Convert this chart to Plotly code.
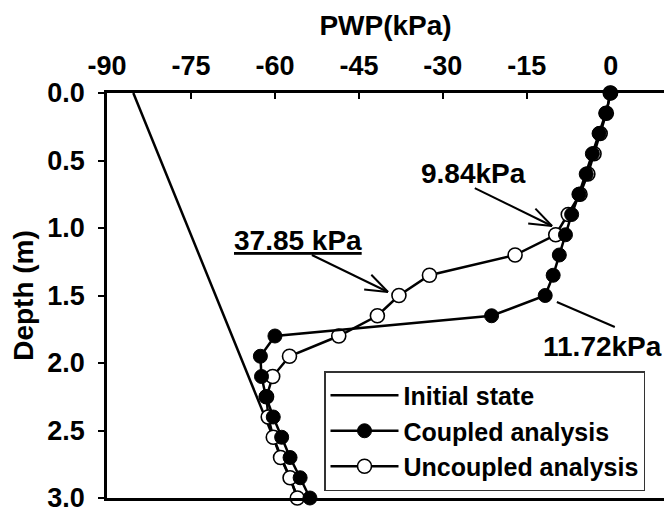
import math
import plotly.graph_objects as go

# ---- data ----
depth = [0.0, 0.15, 0.30, 0.45, 0.60, 0.75, 0.90, 1.05, 1.20, 1.35, 1.50,
         1.65, 1.80, 1.95, 2.10, 2.25, 2.40, 2.55, 2.70, 2.85, 3.0]
coupled = [0.0, -0.9, -2.1, -3.3, -4.4, -5.7, -7.0, -8.1, -9.2, -10.3, -11.72,
           -21.3, -60.0, -62.6, -62.4, -61.6, -60.3, -58.8, -57.3, -55.5, -53.75]
uncoupled = [-0.1, -0.8, -1.9, -3.0, -4.1, -5.5, -7.6, -9.84, -17.1, -32.4, -37.85,
             -41.7, -48.6, -57.4, -60.4, -61.5, -61.2, -60.3, -59.0, -57.3, -56.0]
initial_depth = [0.0, 3.0]
initial_pwp = [-85.3, -55.9]

x_ticks = [-90, -75, -60, -45, -30, -15, 0]
x_ticktext = ["-90", "-75", "-60", "-45", "-30", "-15", "0"]
y_ticks = [0.0, 0.5, 1.0, 1.5, 2.0, 2.5, 3.0]
y_ticktext = ["0.0", "0.5", "1.0", "1.5", "2.0", "2.5", "3.0"]

FONT = "Liberation Sans, Arial, sans-serif"
W, H = 664, 507
ML, MR, MT, MB = 107, 0, 93, 9
XR = [-90, 9.5]
YR = [3, 0]

fig = go.Figure()
fig.add_trace(go.Scatter(x=initial_pwp, y=initial_depth, mode="lines",
                         name="Initial state", legendrank=1,
                         line=dict(color="black", width=2.5)))
fig.add_trace(go.Scatter(x=uncoupled, y=depth, mode="lines+markers",
                         name="Uncoupled analysis", legendrank=3, cliponaxis=False,
                         line=dict(color="black", width=2.5),
                         marker=dict(symbol="circle", size=14, color="white",
                                     line=dict(color="black", width=1.6))))
fig.add_trace(go.Scatter(x=coupled, y=depth, mode="lines+markers",
                         name="Coupled analysis", legendrank=2, cliponaxis=False,
                         line=dict(color="black", width=2.5),
                         marker=dict(symbol="circle", size=14, color="black",
                                     line=dict(color="black", width=1))))

ann_font = dict(family=FONT, size=28, color="black", weight="bold")

# pixel scale of the axes (for drawing open V arrow heads)
sx = (W - ML - MR) / (XR[1] - XR[0])
sy = (H - MT - MB) / (YR[0] - YR[1])

shapes = []
def arrow(tail, head, with_head=True, arm=24, spread=math.radians(20)):
    shapes.append(dict(type="line", xref="x", yref="y", x0=tail[0], y0=tail[1],
                       x1=head[0], y1=head[1], line=dict(color="black", width=2)))
    if not with_head:
        return
    dx = (tail[0] - head[0]) * sx
    dy = (tail[1] - head[1]) * sy
    ang = math.atan2(dy, dx)
    for s in (-spread, spread):
        a = ang + s
        px = head[0] + arm * math.cos(a) / sx
        py = head[1] + arm * math.sin(a) / sy
        shapes.append(dict(type="line", xref="x", yref="y", x0=head[0], y0=head[1],
                           x1=px, y1=py, line=dict(color="black", width=2)))

arrow((-24.3, 0.704), (-10.5, 0.985))
arrow((-53.4, 1.20), (-39.8, 1.474))
arrow((0.71, 1.733), (-9.64, 1.548), with_head=False)

annotations = [
    dict(x=-24.6, y=0.593, xref="x", yref="y", text="<b>9.84kPa</b>", showarrow=False, font=ann_font),
    dict(x=-55.8, y=1.095, xref="x", yref="y", text="<b><u>37.85 kPa</u></b>", showarrow=False, font=ann_font),
    dict(x=-1.5, y=1.881, xref="x", yref="y", text="<b>11.72kPa</b>", showarrow=False, font=ann_font),
]

fig.update_layout(
    width=W, height=H,
    margin=dict(l=ML, r=MR, t=MT, b=MB, autoexpand=False),
    paper_bgcolor="white", plot_bgcolor="white",
    font=dict(family=FONT, color="black", weight="bold"),
    showlegend=True,
    legend=dict(x=(324 - ML) / (W - ML - MR), y=(498 - 371) / (H - MT - MB),
                xanchor="left", yanchor="top",
                bgcolor="white", bordercolor="#333", borderwidth=1.5,
                font=dict(family=FONT, size=25, color="black", weight="bold"),
                tracegroupgap=0, itemwidth=68),
    annotations=annotations,
    shapes=shapes,
)
fig.update_xaxes(
    side="top", range=XR, tickmode="array", tickvals=x_ticks, ticktext=x_ticktext,
    ticks="inside", ticklen=6, tickwidth=2, tickcolor="black", automargin=False,
    showline=True, linecolor="black", linewidth=2.5, mirror=True,
    showgrid=False, zeroline=False,
    tickfont=dict(family=FONT, size=27, color="black", weight="bold"),
    ticklabelstandoff=4,
    title=dict(text="<b>PWP(kPa)</b>", standoff=8,
               font=dict(family=FONT, size=28, color="black", weight="bold")),
)
fig.update_yaxes(
    range=YR, tickmode="array", tickvals=y_ticks, ticktext=y_ticktext,
    ticks="outside", ticklen=6, tickwidth=2, tickcolor="black", automargin=False,
    showline=True, linecolor="black", linewidth=2.5, mirror=False,
    showgrid=False, zeroline=False, ticklabeloverflow="allow",
    tickfont=dict(family=FONT, size=27, color="black", weight="bold"),
    ticklabelstandoff=8,
    title=dict(text="<b>Depth (m)</b>", standoff=6,
               font=dict(family=FONT, size=28, color="black", weight="bold")),
)

fig.write_html("out.html")
